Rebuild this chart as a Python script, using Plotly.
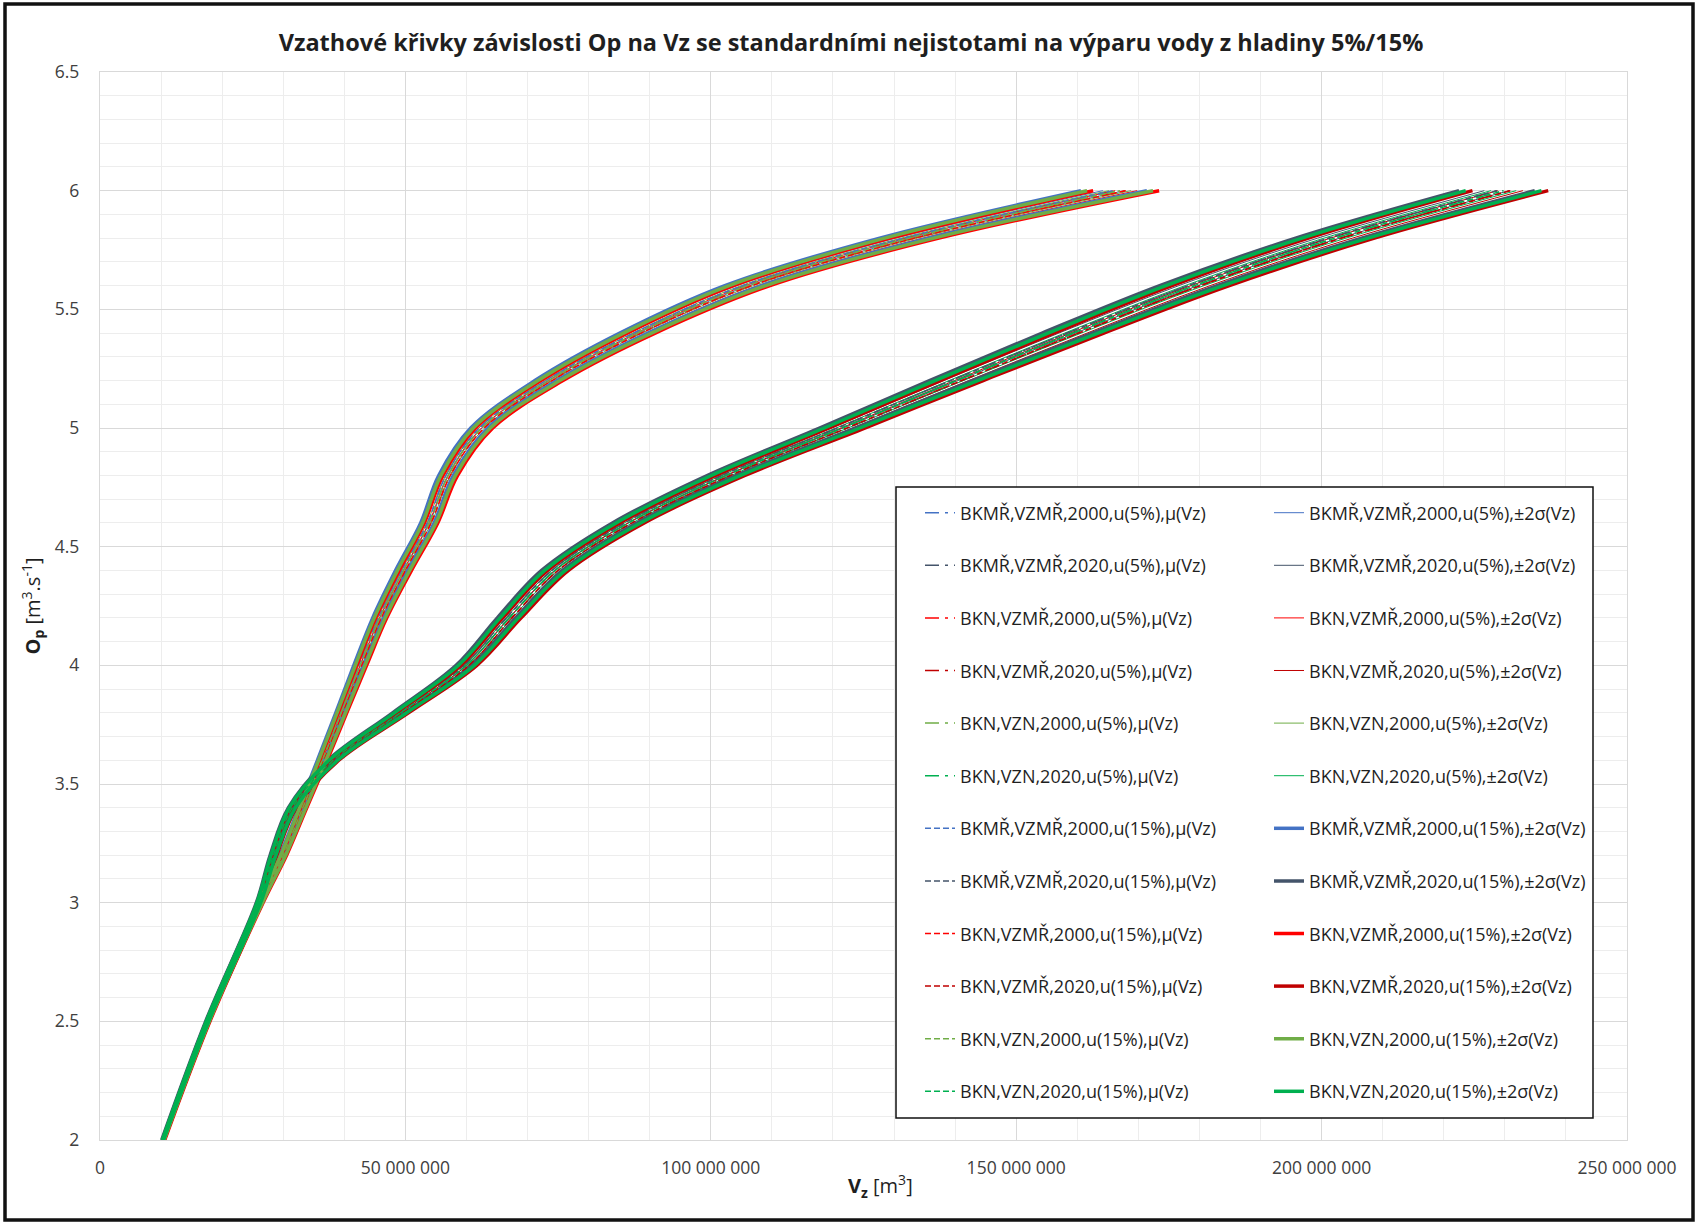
import plotly.graph_objects as go

# ---------------- data (Vz in millions of m3, Op in m3/s) ----------------
OP = [2.0, 2.5, 3.0, 3.2, 3.4, 3.6, 3.8, 4.0, 4.2, 4.4, 4.6, 4.8, 5.0, 5.2, 5.4, 5.6, 5.8, 6.0]

# mean Vz  mu(Vz)
MU_BKMR_VZMR_2000 = [10.3, 17.6, 26.2, 29.85, 33.05, 36.2, 39.3, 42.35, 45.55, 49.4, 53.6, 56.65, 62.1, 73.0, 87.4, 105.3, 131.65, 166.0]
MU_BKMR_VZMR_2020 = [10.2, 17.5, 25.9, 28.25, 31.35, 38.0, 48.9, 59.6, 66.55, 74.0, 85.9, 101.8, 120.7, 139.3, 158.35, 178.2, 201.15, 228.7]
MU_BKN_VZMR_2000 = [10.5, 17.8, 26.4, 30.15, 33.35, 36.6, 39.7, 42.85, 46.05, 50.0, 54.2, 57.35, 62.9, 74.0, 88.6, 106.7, 133.35, 168.0]
MU_BKN_VZMR_2020 = [10.4, 17.7, 26.1, 28.55, 31.65, 38.4, 49.5, 60.4, 67.45, 75.0, 87.1, 103.2, 122.3, 141.1, 160.25, 180.2, 203.25, 230.9]
MU_BKN_VZN_2000 = [10.4, 17.7, 26.3, 30.0, 33.2, 36.4, 39.5, 42.6, 45.8, 49.7, 53.9, 57.0, 62.5, 73.5, 88.0, 106.0, 132.5, 167.0]
MU_BKN_VZN_2020 = [10.3, 17.6, 26.0, 28.4, 31.5, 38.2, 49.2, 60.0, 67.0, 74.5, 86.5, 102.5, 121.5, 140.2, 159.3, 179.2, 202.2, 229.8]

# standard uncertainty sigma(Vz) for evaporation uncertainty 5 % / 15 %
SIG5_2000 = [0.02, 0.03, 0.05, 0.07, 0.08, 0.1, 0.12, 0.13, 0.15, 0.17, 0.18, 0.2, 0.23, 0.3, 0.38, 0.5, 0.67, 0.9]
SIG5_2020 = [0.02, 0.03, 0.05, 0.07, 0.08, 0.12, 0.17, 0.22, 0.25, 0.28, 0.33, 0.4, 0.48, 0.58, 0.68, 0.78, 0.9, 1.03]
SIG15_2000 = [0.05, 0.1, 0.15, 0.2, 0.25, 0.3, 0.35, 0.4, 0.45, 0.5, 0.55, 0.6, 0.7, 0.9, 1.15, 1.5, 2.0, 2.7]
SIG15_2020 = [0.05, 0.1, 0.15, 0.2, 0.25, 0.35, 0.5, 0.65, 0.75, 0.85, 1.0, 1.2, 1.45, 1.75, 2.05, 2.35, 2.7, 3.1]

VARIANTS = [
    ("BKMŘ,VZMŘ,2000", MU_BKMR_VZMR_2000, "2000", "#4472C4"),
    ("BKMŘ,VZMŘ,2020", MU_BKMR_VZMR_2020, "2020", "#44546A"),
    ("BKN,VZMŘ,2000", MU_BKN_VZMR_2000, "2000", "#FF0000"),
    ("BKN,VZMŘ,2020", MU_BKN_VZMR_2020, "2020", "#C00000"),
    ("BKN,VZN,2000", MU_BKN_VZN_2000, "2000", "#70AD47"),
    ("BKN,VZN,2020", MU_BKN_VZN_2020, "2020", "#00B050"),
]
UNCERTAINTIES = [
    ("5%", {"2000": SIG5_2000, "2020": SIG5_2020}, "14px,6px,3px,6px", 1.0),
    ("15%", {"2000": SIG15_2000, "2020": SIG15_2020}, "6px,3px", 3.5),
]

TITLE = "Vzathové křivky závislosti Op na Vz se standardními nejistotami na výparu vody z hladiny 5%/15%"
X_TITLE = "<b>V<sub>z</sub></b> [m<sup>3</sup>]"
Y_TITLE = "<b>O<sub>p</sub></b> [m<sup>3</sup>.s<sup>-1</sup>]"
M = 1e6

# ---------------- figure geometry ----------------
W, H = 1697, 1224
ML, MR, MT, MB = 100, 70, 72, 84
PW, PH = W - ML - MR, H - MT - MB


def px2paper_x(px):
    return (px - ML) / PW


def px2paper_y(py):
    return (H - MB - py) / PH


FONT = "Open Sans"
fig = go.Figure()
legends = {}
row = 0
for u_name, sigmas, dash, sig_width in UNCERTAINTIES:
    for v_name, mu, year, color in VARIANTS:
        sig = sigmas[year]
        lid = "legend" if row == 0 else f"legend{row + 1}"
        fig.add_trace(go.Scatter(
            x=[v * M for v in mu], y=OP, mode="lines",
            line=dict(color=color, width=1.5, dash=dash, shape="spline"),
            name=f"{v_name},u({u_name}),μ(Vz)", legend=lid,
        ))
        lo = [(m - 2 * s) * M for m, s in zip(mu, sig)]
        hi = [(m + 2 * s) * M for m, s in zip(mu, sig)]
        fig.add_trace(go.Scatter(
            x=lo + [None] + hi, y=OP + [None] + OP, mode="lines",
            line=dict(color=color, width=sig_width, shape="spline"),
            name=f"{v_name},u({u_name}),±2σ(Vz)", legend=lid, connectgaps=False,
        ))
        yfull = 513 + 52.6 * row
        legends[lid] = dict(
            x=px2paper_x(920), y=px2paper_y(yfull), xanchor="left", yanchor="middle",
            orientation="h", bgcolor="rgba(0,0,0,0)", borderwidth=0,
            entrywidth=304, entrywidthmode="pixels",
            font=dict(family=FONT, size=18, color="#1f1f1f"),
        )
        row += 1

fig.update_layout(**legends)

fig.update_layout(
    template="none",
    width=W, height=H,
    margin=dict(l=ML, r=MR, t=MT, b=MB, autoexpand=False),
    paper_bgcolor="white", plot_bgcolor="white",
    separators=". ",
    font=dict(family=FONT, color="#404040"),
    title=dict(text=f"<b>{TITLE}</b>", x=851 / W, xref="container", xanchor="center",
               y=1 - 43 / H, yref="container", yanchor="middle",
               font=dict(family=FONT, size=23.5, color="#1f1f1f")),
    showlegend=True,
    shapes=[
        # chart-area border
        dict(type="rect", xref="paper", yref="paper",
             x0=px2paper_x(5), x1=px2paper_x(1693), y0=px2paper_y(1220), y1=px2paper_y(4),
             line=dict(color="#111111", width=3.5), fillcolor="rgba(0,0,0,0)", layer="below"),
        # legend box
        dict(type="rect", xref="paper", yref="paper",
             x0=px2paper_x(896), x1=px2paper_x(1593), y0=px2paper_y(1118), y1=px2paper_y(487),
             line=dict(color="#111111", width=1.5), fillcolor="white", layer="above"),
    ],
    annotations=[
        dict(text=X_TITLE, xref="paper", yref="paper", x=px2paper_x(880), y=px2paper_y(1186),
             xanchor="center", yanchor="middle", showarrow=False,
             font=dict(family=FONT, size=20, color="#1f1f1f")),
    ],
)

fig.update_xaxes(
    range=[0, 250e6], dtick=50e6, tick0=0, tickformat=",.0f",
    showgrid=True, gridcolor="#D9D9D9", gridwidth=1.3,
    minor=dict(dtick=10e6, showgrid=True, gridcolor="#EDEDED", gridwidth=1.3),
    zeroline=False, showline=True, linecolor="#D9D9D9", linewidth=1.3, mirror=True,
    ticks="outside", ticklen=12, tickcolor="rgba(0,0,0,0)",
    tickfont=dict(family=FONT, size=17.5, color="#404040"),
    automargin=False,
)
fig.update_yaxes(
    range=[2, 6.5], dtick=0.5, tick0=2,
    showgrid=True, gridcolor="#D9D9D9", gridwidth=1.3,
    minor=dict(dtick=0.1, showgrid=True, gridcolor="#EDEDED", gridwidth=1.3),
    zeroline=False, showline=True, linecolor="#D9D9D9", linewidth=1.3, mirror=True,
    ticks="outside", ticklen=16, tickcolor="rgba(0,0,0,0)",
    tickfont=dict(family=FONT, size=17.5, color="#404040"),
    title=dict(text=Y_TITLE, standoff=8, font=dict(family=FONT, size=20, color="#1f1f1f")),
    automargin=False,
)

fig.write_html("out.html")
